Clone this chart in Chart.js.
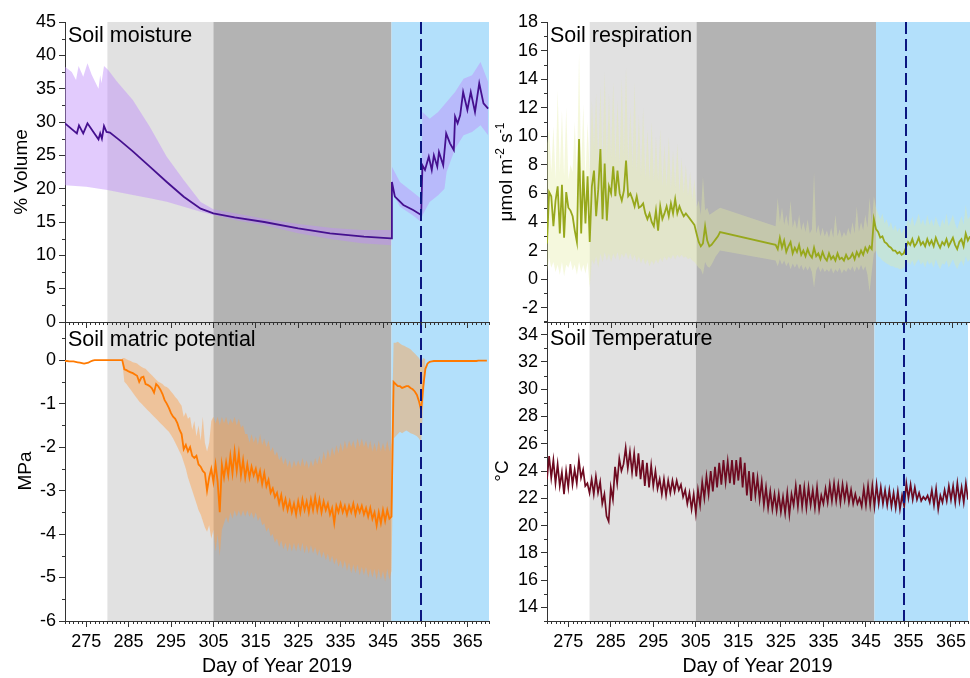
<!DOCTYPE html>
<html>
<head>
<meta charset="utf-8">
<title>Soil variables, DOY 2019</title>
<script src="https://cdn.jsdelivr.net/npm/chart.js@4.4.1/dist/chart.umd.min.js"></script>
<style>
    html, body { margin: 0; padding: 0; background: #fff; }
    #wrap { position: relative; width: 970px; height: 678px; overflow: hidden; }
    #wrap canvas { position: absolute; }
</style>
</head>
<body>
<div id="wrap">
    <canvas id="matricChart" width="490" height="378" style="left:0;top:300px;z-index:1"></canvas>
    <canvas id="moistureChart" width="490" height="340" style="left:0;top:0;z-index:2"></canvas>
    <canvas id="tempChart" width="480" height="378" style="left:490px;top:300px;z-index:1"></canvas>
    <canvas id="respChart" width="480" height="340" style="left:490px;top:0;z-index:2"></canvas>
</div>
<script>
(function () {
    'use strict';

    // ---- axes / periods ----
    var dayMin = 270;
    var xTicks = [275, 285, 295, 305, 315, 325, 335, 345, 355, 365];
    var phaseStarts = [280, 305, 347];
    var phaseEnds = [305, 347, 370];
    var treatmentDay = 354;

    var moistureTicks = [0, 5, 10, 15, 20, 25, 30, 35, 40, 45];
    var matricTicks = [-6, -5, -4, -3, -2, -1, 0];
    var respTicks = [-2, 0, 2, 4, 6, 8, 10, 12, 14, 16, 18];
    var tempTicks = [14, 16, 18, 20, 22, 24, 26, 28, 30, 32, 34];

    // ---- soil moisture (% volume), mean and band ----
    var moistDays = [270, 272.8, 273.3, 274.3, 275.3, 276.7, 277.9, 278.3, 278.7, 279.2, 279.8, 280.6, 283, 286, 290, 294, 298, 302, 305, 310,
        317, 325, 332.5, 340.5, 346.9, 347.1, 347.8, 349.8, 352.1, 354, 354.3, 354.9, 355.8, 356.5, 357, 357.8, 358.2, 359.2, 359.9, 360.8,
        361.7, 362, 362.6, 363.2, 363.9, 364.9, 365.7, 366.7, 367.7, 368.7, 369.8];
    var moistMean = [29.8, 28.3, 29.5, 28.3, 29.8, 28.5, 27.4, 28.3, 27.5, 29.4, 28.5, 28.4, 27.2, 25.6, 23.3, 21.0, 18.8, 17.0, 16.3, 15.7,
        15.0, 14.05, 13.3, 12.8, 12.55, 21.0, 18.8, 17.55, 16.8, 16.05, 23.5, 22.8, 24.8, 22.8, 25.0, 23.3, 25.5, 23.5, 28.3, 26.8,
        25.8, 30.8, 29.8, 31.0, 34.5, 31.8, 34.5, 31.5, 35.8, 32.8, 32.0];
    var moistUpDays = [270, 271.6, 272.6, 273.2, 274.3, 275.3, 276.3, 277.9, 278.3, 278.6, 279.2, 280.2, 282.2, 286, 290, 294, 298, 302, 305, 310,
        317, 325, 333, 340, 346.9, 347.1, 349, 352, 354, 354.3, 356, 358, 360, 362, 364, 366, 368, 369.8];
    var moistUpper = [38.3, 37.5, 36.3, 38.4, 36.8, 38.8, 37.1, 35.0, 37.0, 35.8, 38.4, 37.8, 36.1, 33.3, 29.3, 24.8, 21.3, 18.0, 16.9, 16.3,
        15.5, 14.7, 14.1, 13.8, 13.8, 23.3, 21.0, 19.5, 18.5, 31.5, 30.5, 31.5, 33.0, 34.5, 36.5, 37.0, 39.0, 36.0];
    var moistLoDays = [270, 275, 280, 286, 290, 294, 298, 302, 305, 310, 317, 325, 333, 340, 346.9, 347.1, 349, 352, 354, 354.3,
        356, 358, 359.5, 360, 362, 364, 366, 368, 369.8];
    var moistLower = [20.5, 20.3, 19.8, 19.05, 18.55, 18.05, 17.3, 16.55, 16.05, 15.3, 14.5, 13.3, 12.4, 11.8, 11.5, 19.5, 17.3, 16.0, 15.0, 16.0,
        18.0, 19.0, 20.0, 22.5, 26.0, 28.0, 28.5, 29.5, 28.0];

    // ---- soil matric potential (MPa), every half day from day 270 ----
    var matricMean = [
        -0.02, -0.02, -0.03, -0.03, -0.03, -0.04, -0.05, -0.06, -0.07, -0.08, -0.07, -0.06, -0.03, -0.01, 0, 0, 0, 0, 0, 0,
        0, 0, 0, 0, 0, 0, 0, 0, -0.21, -0.23, -0.26, -0.28, -0.3, -0.33, -0.36, -0.5, -0.4, -0.38, -0.55, -0.57,
        -0.6, -0.65, -0.75, -0.55, -0.6, -0.68, -0.78, -0.92, -1.0, -1.1, -1.22, -1.3, -1.35, -1.45, -1.6, -1.7, -2.05, -1.95, -2.1, -2.0,
        -2.2, -2.25, -2.2, -2.4, -2.45, -2.55, -2.6, -3.0, -2.7, -2.5, -2.8, -2.4, -2.8, -3.5, -2.4, -2.7, -2.35, -2.65, -2.2, -2.6,
        -2.1, -2.55, -2.15, -2.65, -2.3, -2.7, -2.4, -2.7, -2.45, -2.65, -2.5, -2.75, -2.55, -2.85, -2.6, -2.9, -2.75, -3.05, -2.95, -3.15,
        -3.05, -3.3, -3.1, -3.4, -3.2, -3.45, -3.25, -3.5, -3.3, -3.55, -3.25, -3.5, -3.2, -3.45, -3.25, -3.5, -3.2, -3.45, -3.15, -3.45,
        -3.2, -3.5, -3.25, -3.45, -3.3, -3.55, -3.4, -3.75, -3.35, -3.5, -3.3, -3.5, -3.35, -3.55, -3.35, -3.5, -3.3, -3.55, -3.35, -3.5,
        -3.35, -3.55, -3.4, -3.6, -3.4, -3.65, -3.5, -3.8, -3.5, -3.75, -3.45, -3.7, -3.45, -3.65, -3.6, -0.5, -0.55, -0.6, -0.6, -0.64,
        -0.62, -0.6, -0.6, -0.64, -0.67, -0.72, -0.8, -0.95, -1.15, -0.6, -0.2, -0.08, -0.04, -0.03, -0.02, -0.02, -0.02, -0.02, -0.02, -0.02,
        -0.02, -0.02, -0.02, -0.02, -0.02, -0.02, -0.02, -0.02, -0.02, -0.02, -0.02, -0.02, -0.02, -0.02, -0.02, -0.01, -0.01, -0.01, -0.01, -0.01
    ];
    // band, every half day from day 283.5 to 355
    var matricUpper = [
        0.05, 0.05, 0.02, 0.0, -0.02, -0.05, -0.06, -0.08, -0.12, -0.15, -0.18, -0.2, -0.25,
        -0.3, -0.35, -0.4, -0.45, -0.5, -0.52, -0.55, -0.6, -0.62, -0.66, -0.72, -0.78, -0.85, -0.9, -0.98, -1.05, -1.3, -1.2, -1.35, -1.3,
        -1.6, -1.4, -1.75, -1.5, -1.85, -1.3, -1.9, -2.1, -1.9, -1.4, -1.3, -1.45, -1.3, -1.5, -1.3, -1.45, -1.3, -1.5, -1.35, -1.45,
        -1.3, -1.5, -1.35, -1.55, -1.5, -1.7, -1.7, -1.9, -1.7, -1.9, -1.75, -1.95, -1.7, -1.95, -1.8, -2.0, -1.85, -2.1, -2.0, -2.2,
        -2.1, -2.3, -2.2, -2.4, -2.25, -2.45, -2.3, -2.5, -2.3, -2.45, -2.3, -2.45, -2.25, -2.45, -2.3, -2.5, -2.3, -2.45, -2.25, -2.4,
        -2.2, -2.4, -2.1, -2.3, -2.05, -2.25, -2.0, -2.2, -1.95, -2.15, -1.9, -2.1, -1.85, -2.05, -1.85, -2.0, -1.85, -2.05, -1.8, -2.0,
        -1.8, -2.0, -1.85, -2.05, -1.85, -2.1, -1.9, -2.1, -1.85, -2.1, -1.9, -2.1, -1.85, -2.1, -1.9, 0.4, 0.4, 0.42, 0.38, 0.35,
        0.33, 0.3, 0.28, 0.25, 0.2, 0.15, 0.1, 0.05, -0.05, 0.05, 0.02
    ];
    var matricLower = [
        -0.05, -0.5, -0.55, -0.62, -0.68, -0.75, -0.82, -0.88, -0.95, -1.0, -1.05, -1.1, -1.15,
        -1.2, -1.25, -1.3, -1.35, -1.4, -1.45, -1.5, -1.55, -1.6, -1.65, -1.72, -1.8, -1.9, -2.0, -2.1, -2.2, -2.35, -2.5, -2.7, -2.85,
        -3.0, -3.15, -3.3, -3.45, -3.55, -3.7, -3.85, -3.95, -3.8, -4.1, -3.9, -4.4, -4.0, -4.5, -3.9, -3.75, -3.6, -3.75, -3.5, -3.65,
        -3.45, -3.6, -3.45, -3.6, -3.45, -3.6, -3.45, -3.6, -3.5, -3.65, -3.5, -3.7, -3.6, -3.8, -3.75, -3.95, -3.85, -4.05, -4.0, -4.2,
        -4.1, -4.3, -4.15, -4.35, -4.2, -4.4, -4.2, -4.4, -4.2, -4.4, -4.2, -4.4, -4.2, -4.45, -4.25, -4.45, -4.25, -4.45, -4.3, -4.5,
        -4.35, -4.55, -4.4, -4.6, -4.45, -4.65, -4.5, -4.7, -4.55, -4.75, -4.6, -4.8, -4.6, -4.85, -4.65, -4.9, -4.7, -4.9, -4.7, -4.95,
        -4.75, -4.95, -4.75, -5.0, -4.8, -5.0, -4.8, -5.05, -4.8, -5.05, -4.85, -5.1, -4.8, -5.05, -4.85, -1.8, -1.75, -1.7, -1.65, -1.68,
        -1.65, -1.62, -1.65, -1.68, -1.7, -1.72, -1.75, -1.8, -1.9, -1.0, -0.3
    ];

    // ---- soil respiration (umol m-2 s-1), half-day steps, gap between 310.5 and 323.5 ----
    var respMeanA = [
        2.5, 6.1, 5.8, 3.7, 5.5, 6.5, 3.2, 6.6, 2.9, 6.1, 5.0, 4.8, 4.4, 3.4, 2.6, 9.8, 3.2, 7.6, 3.9, 7.2,
        2.6, 6.5, 7.6, 4.4, 6.3, 9.1, 4.2, 8.1, 4.1, 6.5, 6.0, 7.9, 5.8, 7.6, 6.0, 5.5, 6.2, 8.3, 5.8, 6.0,
        5.6, 5.1, 5.8, 5.0, 5.1, 5.3, 4.6, 4.2, 4.6, 4.0, 3.7, 4.8, 3.4, 5.1, 4.2, 4.6, 5.1, 4.4, 5.3, 4.6,
        5.6, 4.6, 5.1, 4.7, 4.4, 4.6, 4.4, 4.2, 4.0, 3.8, 3.2, 2.6, 2.3, 2.5, 3.7, 2.7, 2.3, 2.4, 2.6, 2.8, 3.0, 3.3
    ];
    var respUpperA = [
        9.5, 10.6, 7.5, 10.7, 7.0, 13.2, 7.5, 11.8, 7.2, 12.0, 7.0, 8.0, 7.5, 11.0, 7.0, 15.8, 7.5, 12.2, 7.0, 11.0,
        7.3, 12.5, 9.0, 13.0, 8.0, 13.5, 8.0, 14.5, 8.2, 13.0, 8.5, 13.8, 8.2, 12.5, 8.0, 14.0, 8.5, 14.8, 8.0, 12.0,
        7.8, 13.8, 7.5, 11.5, 7.2, 12.0, 7.0, 10.5, 7.0, 11.0, 6.8, 10.0, 6.8, 10.5, 6.5, 9.5, 6.5, 10.0, 6.3, 9.0,
        6.3, 9.5, 6.0, 8.5, 6.0, 8.0, 5.8, 7.5, 5.5, 7.0, 5.0, 5.5, 4.5, 7.2, 4.8, 5.0, 4.5, 4.6, 4.7, 4.8, 4.9, 5.0
    ];
    var respLowerA = [
        0.5, 1.5, 0.8, 1.2, 0.5, 1.0, 0.3, 1.2, 0.2, 1.0, 0.8, 1.3, 0.6, 1.0, 0.3, 1.2, 0.5, 1.0, 0.4, 1.2,
        -0.6, 1.4, 1.0, 1.6, 0.8, 1.8, 1.2, 1.9, 1.3, 1.8, 1.2, 1.8, 1.4, 1.9, 1.3, 1.8, 1.5, 1.9, 1.4, 1.8,
        1.3, 1.7, 1.2, 1.6, 1.1, 1.5, 1.0, 1.4, 0.9, 1.3, 1.0, 1.4, 1.1, 1.5, 1.2, 1.6, 1.3, 1.6, 1.4, 1.7,
        1.4, 1.7, 1.5, 1.7, 1.5, 1.6, 1.4, 1.5, 1.3, 1.2, 1.0, 0.8, 0.7, 0.3, 1.2, 0.9, 0.8, 1.0, 1.3, 1.6, 1.8, 2.0
    ];
    var respMeanB = [
        2.4, 2.1, 2.9, 2.2, 2.7, 1.9, 2.3, 2.6, 1.8, 2.2, 1.9, 2.4, 1.7,
        2.0, 1.6, 2.1, 1.7, 1.5, 2.2, 1.6, 1.8, 1.4, 1.9, 1.5, 1.3, 1.8, 1.4, 1.6, 1.3, 1.8, 1.4, 1.5, 1.3,
        1.7, 1.4, 1.5, 1.8, 1.4, 1.9, 1.6, 2.0, 1.7, 2.2, 1.9, 2.3, 2.1, 4.2, 3.5, 3.3, 2.9, 3.0, 2.6, 2.5,
        2.3, 2.2, 2.0, 2.0, 1.8, 1.9, 1.7, 1.8, 2.2, 2.6, 2.4, 2.8, 2.3, 2.5, 2.9, 2.4, 2.6, 2.3, 2.8, 2.4,
        2.7, 2.3, 2.9, 2.5, 2.2, 2.6, 2.4, 2.8, 2.3, 2.6, 2.9, 2.4, 2.1, 2.6, 2.8, 2.3, 3.2, 2.7, 3.0
    ];
    var respUpperB = [
        3.7, 5.7, 4.0, 5.0, 3.8, 4.5, 3.7, 5.5, 3.6, 4.2, 3.5, 4.5, 3.4,
        4.0, 3.3, 4.2, 3.2, 3.5, 7.5, 3.2, 3.8, 3.0, 3.6, 3.0, 3.4, 2.9, 3.6, 2.9, 4.5, 3.0, 3.5, 2.9, 3.3,
        3.0, 3.6, 3.1, 4.0, 3.2, 5.1, 3.3, 4.0, 3.4, 4.5, 3.6, 5.7, 3.8, 5.8, 5.0, 4.6, 4.2, 4.6, 3.9, 4.2,
        3.6, 4.0, 3.4, 3.8, 3.3, 3.6, 3.2, 3.5, 3.6, 4.2, 3.8, 4.4, 3.7, 4.1, 4.6, 3.8, 4.2, 3.7, 4.5, 3.8,
        4.2, 3.7, 4.4, 3.9, 3.6, 4.2, 3.8, 4.6, 3.7, 4.1, 4.5, 3.9, 3.5, 4.0, 4.4, 3.8, 5.2, 4.2, 4.4
    ];
    var respLowerB = [
        1.3, 0.9, 1.4, 1.0, 1.3, 0.9, 1.2, 0.7, 1.1, 0.8, 1.1, 0.7, 1.0,
        0.6, 0.9, 0.6, 0.9, 0.5, -0.6, 0.6, 0.9, 0.5, 0.8, 0.5, 0.7, 0.5, 0.8, 0.4, 0.7, 0.5, 0.8, 0.4, 0.7,
        0.5, 0.8, 0.6, 0.9, 0.5, 0.9, 0.6, 1.0, 0.6, 0.9, 0.3, -0.9, 0.5, 1.8, 2.0, 1.6, 1.5, 1.3, 1.2, 1.1,
        1.0, 0.9, 0.9, 0.8, 0.8, 0.7, 0.7, 0.8, 1.0, 1.2, 1.0, 1.3, 0.9, 1.2, 1.4, 1.0, 1.2, 0.8, 1.3, 1.0,
        1.2, 0.8, 1.4, 1.0, 0.7, 1.1, 1.0, 1.3, 0.8, 1.1, 1.4, 1.0, 0.7, 1.1, 1.3, 0.9, 1.6, 1.2, 1.4
    ];

    // ---- soil temperature (deg C), every half day from day 270 ----
    var tempMean = [
        23.4, 25.1, 23.5, 24.8, 23.1, 24.5, 22.9, 23.9, 22.3, 24.0, 22.8, 24.5, 23.0, 24.1, 23.1, 24.8, 23.5, 24.1, 22.9, 23.1,
        22.4, 23.4, 22.3, 23.6, 22.4, 23.2, 21.6, 22.3, 20.7, 20.3, 22.8, 21.9, 24.3, 23.1, 24.9, 24.0, 24.5, 25.7, 24.2, 25.4,
        23.9, 25.3, 23.6, 25.3, 23.4, 24.8, 22.9, 24.6, 22.8, 24.4, 22.9, 24.0, 22.7, 23.4, 22.3, 23.4, 22.2, 23.3, 22.4, 23.3,
        22.5, 23.3, 22.6, 23.0, 22.1, 22.6, 21.6, 22.4, 21.2, 22.3, 20.9, 22.6, 21.5, 23.2, 22.0, 23.6, 22.3, 24.0, 22.5, 24.3,
        22.8, 24.6, 23.0, 24.8, 23.2, 24.7, 23.1, 24.8, 23.0, 24.8, 23.3, 25.0, 22.8, 24.6, 22.2, 24.0, 21.8, 23.9, 22.2, 23.5,
        21.9, 23.2, 21.5, 22.8, 21.3, 22.5, 21.2, 22.3, 21.1, 22.3, 21.0, 22.1, 20.9, 22.4, 20.8, 22.3, 21.5, 22.9, 21.4, 23.0,
        21.4, 22.8, 21.3, 22.8, 21.5, 22.6, 21.3, 22.8, 21.2, 22.2, 21.6, 22.7, 21.7, 23.0, 21.8, 23.1, 21.8, 23.0, 21.7, 23.0,
        21.9, 22.9, 21.7, 22.6, 21.6, 22.3, 21.6, 22.0, 21.4, 22.7, 21.5, 22.9, 21.5, 22.9, 21.4, 23.0, 21.6, 22.8, 21.6, 22.6,
        21.5, 22.6, 21.4, 22.4, 21.3, 22.5, 21.2, 22.2, 21.4, 23.1, 22.0, 23.0, 21.9, 22.8, 21.9, 22.4, 21.8, 22.1, 21.9, 22.2,
        21.7, 22.6, 21.5, 22.7, 21.2, 22.2, 21.7, 22.6, 21.8, 22.9, 21.9, 22.9, 21.7, 23.1, 21.8, 22.8, 21.7, 23.1, 21.9, 22.6
    ];

    // ---- styles ----
    var FONT = "'Liberation Sans', Arial, Helvetica, sans-serif";
    var AXIS_COLOR = '#333333';
    var PHASE_COLORS = ['#e1e1e1', '#b3b3b3', '#b3e0fb'];

    Chart.defaults.font.family = FONT;
    Chart.defaults.color = '#000';

    function halfDays(startDay, values) {
        return values.map(function (v, i) { return { x: startDay + i * 0.5, y: v }; });
    }

    function pairs(days, values) {
        return days.map(function (d, i) { return { x: d, y: values[i] }; });
    }

    // mean line first (Chart.js paints dataset 0 last, i.e. on top), then the band pair
    function lineWithBand(mean, color, width, lower, upper, bandColor) {
        return [
            { data: mean, borderColor: color, borderWidth: width, pointRadius: 0, fill: false, tension: 0 },
            { data: lower, borderColor: 'rgba(0,0,0,0)', borderWidth: 0, pointRadius: 0, fill: false },
            { data: upper, borderColor: 'rgba(0,0,0,0)', borderWidth: 0, pointRadius: 0, fill: '-1', backgroundColor: bandColor }
        ];
    }

    var panelPlugin = {
        id: 'panel',
        beforeDraw: function (chart) {
            var ctx = chart.ctx, area = chart.chartArea, xs = chart.scales.x;
            ctx.save();
            phaseStarts.forEach(function (start, i) {
                var x0 = Math.max(area.left, xs.getPixelForValue(start));
                var x1 = Math.min(area.right, xs.getPixelForValue(phaseEnds[i]));
                ctx.fillStyle = PHASE_COLORS[i];
                ctx.fillRect(x0, area.top, x1 - x0, area.bottom - area.top);
            });
            ctx.restore();
        },
        afterDatasetsDraw: function (chart, args, opts) {
            var ctx = chart.ctx, area = chart.chartArea;
            var x = Math.round(chart.scales.x.getPixelForValue(treatmentDay));
            ctx.save();
            ctx.strokeStyle = '#0a1680';
            ctx.lineWidth = 2;
            ctx.setLineDash([12, 5]);
            ctx.beginPath();
            ctx.moveTo(x, area.top);
            ctx.lineTo(x, area.bottom);
            ctx.stroke();
            ctx.setLineDash([]);
            ctx.font = '21.5px ' + FONT;
            ctx.fillStyle = '#000';
            ctx.textAlign = 'left';
            ctx.textBaseline = 'alphabetic';
            ctx.fillText(opts.title, area.left + 3, area.top + opts.titleBase);
            ctx.restore();
        },
        afterDraw: function (chart, args, opts) {
            var ctx = chart.ctx, area = chart.chartArea;
            var xs = chart.scales.x, ys = chart.scales.y;
            ctx.save();
            ctx.strokeStyle = AXIS_COLOR;
            ctx.lineWidth = 1;
            ctx.beginPath();
            // minor x ticks, one per day
            for (var d = Math.ceil(xs.min); d <= xs.max; d++) {
                if ((d - 275) % 10 === 0) continue;
                var px = Math.round(xs.getPixelForValue(d)) + 0.5;
                ctx.moveTo(px, area.bottom);
                ctx.lineTo(px, area.bottom + 3);
            }
            // minor y ticks
            var step = opts.yMinor;
            for (var v = Math.ceil(ys.min / step) * step; v <= ys.max + 1e-9; v += step) {
                var r = v / opts.yMajor;
                if (Math.abs(r - Math.round(r)) < 1e-6) continue;
                var py = Math.round(ys.getPixelForValue(v)) + 0.5;
                ctx.moveTo(area.left - 3, py);
                ctx.lineTo(area.left, py);
            }
            ctx.stroke();

            // axis title with superscripts (respiration)
            if (opts.unitTitle) {
                var parts = [['\u03bcmol m', 0], ['-2', 1], [' s', 0], ['-1', 1]];
                var big = '19px ' + FONT, small = '12px ' + FONT;
                var total = 0;
                parts.forEach(function (p) {
                    ctx.font = p[1] ? small : big;
                    total += ctx.measureText(p[0]).width;
                });
                ctx.translate(opts.unitX, (area.top + area.bottom) / 2);
                ctx.rotate(-Math.PI / 2);
                ctx.fillStyle = '#000';
                ctx.textAlign = 'left';
                ctx.textBaseline = 'alphabetic';
                var cx = -total / 2;
                parts.forEach(function (p) {
                    ctx.font = p[1] ? small : big;
                    ctx.fillText(p[0], cx, p[1] ? -1 : 7);
                    cx += ctx.measureText(p[0]).width;
                });
            }
            ctx.restore();
        }
    };

    function buildChart(canvasId, cfg) {
        var el = document.getElementById(canvasId);
        return new Chart(el.getContext('2d'), {
            type: 'line',
            data: { datasets: cfg.datasets },
            options: {
                responsive: false,
                animation: false,
                events: [],
                layout: { padding: cfg.padding },
                plugins: {
                    legend: { display: false },
                    tooltip: { enabled: false },
                    panel: cfg.panel
                },
                scales: {
                    x: {
                        type: 'linear',
                        min: dayMin,
                        max: cfg.xMax,
                        afterBuildTicks: function (scale) {
                            scale.ticks = xTicks.map(function (v) { return { value: v }; });
                        },
                        afterFit: function (scale) { scale.height = cfg.xHeight; },
                        border: { display: true, color: AXIS_COLOR, width: 1 },
                        grid: { drawOnChartArea: false, drawTicks: true, tickLength: 6, color: AXIS_COLOR },
                        ticks: {
                            display: cfg.xLabels, autoSkip: false, maxRotation: 0, padding: 4,
                            font: { size: 18 }, color: '#000',
                            callback: function (v) { return String(v); }
                        },
                        title: {
                            display: cfg.xLabels, text: 'Day of Year 2019', color: '#000',
                            font: { size: 19.5 }, padding: { top: 0, bottom: 0 }
                        }
                    },
                    y: {
                        min: cfg.yMin,
                        max: cfg.yMax,
                        afterBuildTicks: function (scale) {
                            scale.ticks = cfg.yTicks.map(function (v) { return { value: v }; });
                        },
                        afterFit: function (scale) { scale.width = cfg.yWidth; },
                        border: { display: true, color: AXIS_COLOR, width: 1 },
                        grid: { drawOnChartArea: false, drawTicks: true, tickLength: 6, color: AXIS_COLOR },
                        ticks: {
                            padding: 3, font: { size: 18 }, color: '#000',
                            callback: function (v) { return String(v); }
                        },
                        title: {
                            display: !!cfg.yTitle, text: cfg.yTitle || '', color: '#000',
                            font: { size: 19 }, padding: { top: cfg.yTitlePad, bottom: 0 }
                        }
                    }
                }
            },
            plugins: [panelPlugin]
        });
    }

    // Soil matric potential (bottom left, drawn first so upper panel ticks sit above it)
    buildChart('matricChart', {
        datasets: lineWithBand(halfDays(270, matricMean), '#ff7a00', 1.8,
            halfDays(283.5, matricLower), halfDays(283.5, matricUpper), 'rgba(255,160,70,0.45)'),
        padding: { left: 0, top: 21, right: 1, bottom: 0 },
        xMax: 370, xHeight: 57, xLabels: true,
        yMin: -6, yMax: 0.9, yTicks: matricTicks, yWidth: 65,
        yTitle: 'MPa', yTitlePad: 14,
        panel: { title: 'Soil matric potential', titleBase: 25, yMinor: 0.5, yMajor: 1 }
    });

    // Soil moisture (top left)
    buildChart('moistureChart', {
        datasets: lineWithBand(pairs(moistDays, moistMean), '#45108f', 1.8,
            pairs(moistLoDays, moistLower), pairs(moistUpDays, moistUpper), 'rgba(190,140,250,0.45)'),
        padding: { left: 0, top: 22, right: 1, bottom: 0 },
        xMax: 370, xHeight: 18, xLabels: false,
        yMin: 0, yMax: 45, yTicks: moistureTicks, yWidth: 65,
        yTitle: '% Volume', yTitlePad: 10,
        panel: { title: 'Soil moisture', titleBase: 20, yMinor: 2.5, yMajor: 5 }
    });

    // Soil temperature (bottom right)
    buildChart('tempChart', {
        datasets: [{ data: halfDays(270, tempMean), borderColor: '#6e0a20', borderWidth: 1.7, pointRadius: 0, fill: false, tension: 0 }],
        padding: { left: 0, top: 21, right: 0, bottom: 0 },
        xMax: 369, xHeight: 57, xLabels: true,
        yMin: 13, yMax: 35, yTicks: tempTicks, yWidth: 57,
        yTitle: '\u00b0C', yTitlePad: 1,
        panel: { title: 'Soil Temperature', titleBase: 24, yMinor: 1, yMajor: 2 }
    });

    // Soil respiration (top right)
    buildChart('respChart', {
        datasets: lineWithBand(
            halfDays(270, respMeanA).concat(halfDays(323.5, respMeanB)), '#97a81c', 1.8,
            halfDays(270, respLowerA).concat(halfDays(323.5, respLowerB)),
            halfDays(270, respUpperA).concat(halfDays(323.5, respUpperB)),
            'rgba(228,236,160,0.36)'
        ),
        padding: { left: 0, top: 22, right: 0, bottom: 0 },
        xMax: 369, xHeight: 18, xLabels: false,
        yMin: -3, yMax: 18, yTicks: respTicks, yWidth: 57,
        yTitle: '', yTitlePad: 0,
        panel: { title: 'Soil respiration', titleBase: 20, yMinor: 1, yMajor: 2, unitTitle: true, unitX: 15 }
    });
})();
</script>
</body>
</html>
